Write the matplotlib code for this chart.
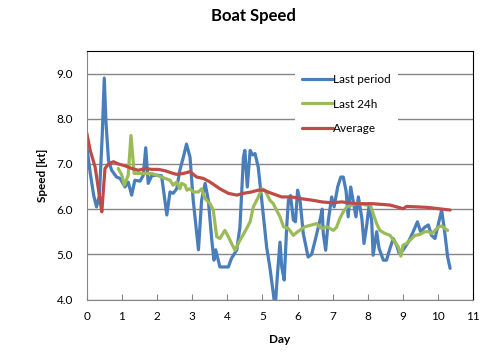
import matplotlib
matplotlib.use("Agg")
import matplotlib.pyplot as plt

# Last period (blue)
blue_day = [0, 0.1, 0.2, 0.28, 0.36, 0.44, 0.5, 0.55, 0.62, 0.71, 0.85, 0.95, 1.09, 1.18, 1.28,
            1.37, 1.52, 1.61, 1.68, 1.75, 1.85, 2.0, 2.13, 2.28, 2.37, 2.46, 2.56, 2.65, 2.75,
            2.84, 2.94, 3.03, 3.18, 3.27, 3.37, 3.46, 3.56, 3.62, 3.67, 3.79, 3.93, 4.03, 4.12,
            4.27, 4.36, 4.46, 4.5, 4.57, 4.65, 4.72, 4.79, 4.88, 4.98, 5.12, 5.21, 5.31, 5.36,
            5.43, 5.5, 5.55, 5.62, 5.69, 5.74, 5.8, 5.88, 5.94, 6.0, 6.07, 6.16, 6.3, 6.4, 6.5,
            6.64, 6.7, 6.73, 6.8, 6.87, 6.97, 7.04, 7.14, 7.23, 7.3, 7.38, 7.44, 7.51, 7.56,
            7.66, 7.73, 7.83, 7.89, 7.96, 8.04, 8.11, 8.15, 8.25, 8.32, 8.44, 8.53, 8.63, 8.72,
            8.82, 8.89, 9.0, 9.15, 9.29, 9.41, 9.5, 9.62, 9.72, 9.81, 9.91, 10.0, 10.1, 10.19,
            10.27, 10.34]
blue_speed = [7.4, 6.8, 6.3, 6.05, 6.3, 7.6, 8.9, 7.9, 7.08, 6.86, 6.71, 6.68, 6.49, 6.6, 6.31,
              6.64, 6.62, 6.75, 7.36, 6.57, 6.74, 6.75, 6.74, 5.87, 6.38, 6.35, 6.45, 6.86, 7.15,
              7.44, 7.15, 6.2, 5.1, 6.2, 6.57, 6.2, 5.31, 4.87, 5.1, 4.72, 4.72, 4.72, 4.91,
              5.1, 5.6, 7.15, 7.3, 6.49, 7.3, 7.2, 7.23, 6.93, 6.2, 5.16, 4.72, 4.13, 3.8,
              4.58, 5.27, 4.72, 4.43, 5.6, 6.2, 6.3, 5.76, 5.72, 6.42, 6.2, 5.47, 4.94, 5.0, 5.31,
              5.76, 6.0, 5.47, 5.09, 5.72, 6.27, 6.05, 6.49, 6.71, 6.71, 6.4, 5.83, 6.49, 6.28,
              5.83, 6.27, 5.79, 5.24, 5.6, 6.12, 5.72, 4.98, 5.5, 5.13, 4.87, 4.87, 5.13, 5.35,
              5.2, 5.02, 5.09, 5.27, 5.5, 5.72, 5.5, 5.6, 5.65, 5.42, 5.35, 5.65, 5.98, 5.47,
              4.94, 4.69]

# Last 24h (green)
green_day = [0.9, 1.0, 1.07, 1.18, 1.26, 1.35, 1.55, 1.85, 2.13, 2.37, 2.46, 2.56, 2.65, 2.7,
             2.8, 2.85, 2.94, 3.03, 3.18, 3.27, 3.37, 3.51, 3.6, 3.7, 3.79, 3.93, 4.03, 4.12,
             4.22, 4.36, 4.5, 4.65, 4.74, 4.86, 4.98, 5.07, 5.21, 5.31, 5.4, 5.5, 5.6, 5.74,
             5.88, 6.0, 6.21, 6.4, 6.54, 6.64, 6.69, 6.83, 7.02, 7.11, 7.2, 7.3, 7.4, 7.54,
             7.68, 7.82, 7.96, 8.06, 8.15, 8.25, 8.34, 8.49, 8.63, 8.77, 8.87, 8.94, 9.0, 9.1,
             9.25, 9.34, 9.48, 9.62, 9.72, 9.82, 9.91, 10.0, 10.1, 10.19, 10.27]
green_speed = [6.9, 6.75, 6.53, 6.75, 7.63, 6.79, 6.79, 6.79, 6.71, 6.64, 6.53, 6.6, 6.45, 6.57,
               6.53, 6.42, 6.45, 6.38, 6.38, 6.45, 6.23, 6.12, 5.98, 5.39, 5.35, 5.53, 5.39, 5.24,
               5.09, 5.31, 5.5, 5.72, 6.05, 6.23, 6.45, 6.42, 6.2, 6.12, 5.98, 5.83, 5.61, 5.57,
               5.42, 5.5, 5.61, 5.65, 5.68, 5.6, 5.57, 5.61, 5.53, 5.6, 5.79, 5.94, 6.05, 6.09,
               6.12, 6.12, 6.09, 6.12, 5.9, 5.68, 5.53, 5.46, 5.42, 5.27, 5.16, 4.96, 5.2, 5.24,
               5.35, 5.42, 5.44, 5.5, 5.5, 5.46, 5.53, 5.6, 5.63, 5.57, 5.53]

# Average (red)
red_day = [0, 0.1, 0.24, 0.38, 0.43, 0.52, 0.62, 0.76, 0.9, 1.09, 1.28, 1.47, 1.66, 1.85, 2.04,
           2.23, 2.46, 2.56, 2.75, 2.94, 3.13, 3.32, 3.51, 3.79, 4.03, 4.27, 4.46, 4.69, 4.88,
           5.03, 5.26, 5.55, 5.83, 6.12, 6.4, 6.69, 6.97, 7.26, 7.68, 8.15, 8.63, 9.01, 9.1,
           9.67, 10.34]
red_speed = [7.69, 7.3, 6.93, 6.2, 5.94, 6.9, 7.0, 7.05, 7.0, 6.96, 6.9, 6.86, 6.9, 6.88, 6.88,
             6.85, 6.79, 6.77, 6.79, 6.83, 6.71, 6.68, 6.6, 6.45, 6.35, 6.31, 6.35, 6.38, 6.42,
             6.42, 6.35, 6.27, 6.27, 6.23, 6.2, 6.16, 6.14, 6.16, 6.12, 6.12, 6.09, 6.01, 6.06,
             6.04, 5.98]

x_ticks = list(range(0, 12))
y_ticks = [4.0, 5.0, 6.0, 7.0, 8.0, 9.0]

plt.rcParams['font.family'] = ['Lato', 'DejaVu Sans']

fig = plt.figure(figsize=(4.92, 3.54), dpi=100)
ax = fig.add_axes([86.7 / 492, 1 - 299.5 / 354, (473.3 - 86.7) / 492, (299.5 - 51) / 354])

ax.plot(blue_day, blue_speed, color='#4A7EBB', linewidth=2.3, label='Last period',
        solid_capstyle='round', solid_joinstyle='round')
ax.plot(green_day, green_speed, color='#9BBB59', linewidth=2.3, label='Last 24h',
        solid_capstyle='round', solid_joinstyle='round')
ax.plot(red_day, red_speed, color='#BE4B48', linewidth=2.3, label='Average',
        solid_capstyle='round', solid_joinstyle='round')

ax.set_xlim(0, 11)
ax.set_ylim(4, 9.5)
ax.set_xticks(x_ticks)
ax.set_yticks(y_ticks)
ax.set_yticklabels([f"{v:.1f}" for v in y_ticks])
ax.grid(axis='y', color='#868686', linewidth=1)
ax.set_axisbelow(True)

for side in ['left', 'bottom']:
    ax.spines[side].set_color('#868686')
for side in ['top', 'right']:
    ax.spines[side].set_color('black')
ax.tick_params(axis='x', direction='in', length=4, color='#868686', labelsize=8.5, pad=8)
ax.tick_params(axis='y', length=0, labelsize=8.5, pad=10)

ax.set_xlabel('Day', fontsize=8.5, fontweight='bold', labelpad=9)
ax.set_ylabel('Speed [kt]', fontsize=8.5, fontweight='bold', labelpad=6)
fig.text(253 / 492, 1 - 16 / 354, 'Boat Speed', ha='center', va='center',
         fontsize=12, fontweight='bold')

leg = ax.legend(loc='upper left', bbox_to_anchor=((289 - 86.7) / 386.6, 1 - 10 / 248.5),
                fontsize=8.5, frameon=True, facecolor='white', edgecolor='none', framealpha=1,
                fancybox=False, handlelength=2.6, handletextpad=0.05, labelspacing=1.15,
                borderpad=0.6)

fig.savefig('out.png', dpi=100)
